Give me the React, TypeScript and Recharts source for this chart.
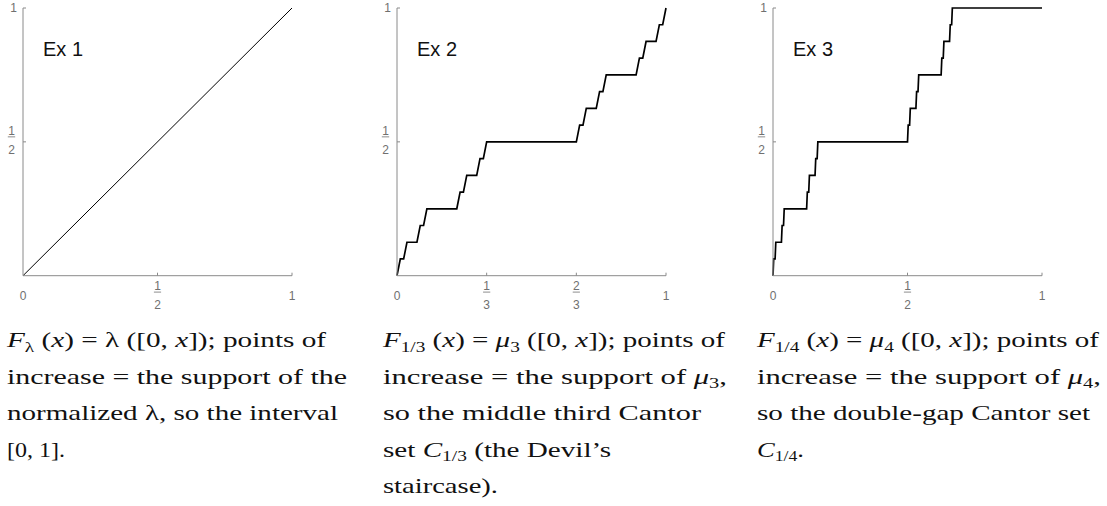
import { LineChart, Line, XAxis, YAxis } from "recharts";

// Ex 1: uniform measure, F(x) = x
const ex1X = [0, 1];
const ex1Y = [0, 1];

// Ex 2: middle third Cantor function
const ex2X = [
  0, 0.0123, 0.0247, 0.037, 0.0741, 0.0864, 0.0988, 0.1111, 0.2222, 0.2346, 0.2469, 0.2593, 0.2963, 0.3086, 0.321, 0.3333,
  0.6667, 0.679, 0.6914, 0.7037, 0.7407, 0.7531, 0.7654, 0.7778, 0.8889, 0.9012, 0.9136, 0.9259, 0.963, 0.9753, 0.9877, 1,
];
const ex2Y = [
  0, 0.0625, 0.0625, 0.125, 0.125, 0.1875, 0.1875, 0.25, 0.25, 0.3125, 0.3125, 0.375, 0.375, 0.4375, 0.4375, 0.5,
  0.5, 0.5625, 0.5625, 0.625, 0.625, 0.6875, 0.6875, 0.75, 0.75, 0.8125, 0.8125, 0.875, 0.875, 0.9375, 0.9375, 1,
];

// Ex 3: double-gap Cantor function
const ex3X = [
  0, 0.0026, 0.0078, 0.0104, 0.0313, 0.0339, 0.0391, 0.0417, 0.125, 0.1276, 0.1328, 0.1354, 0.1563, 0.1589, 0.1641, 0.1667,
  0.5, 0.5026, 0.5078, 0.5104, 0.5313, 0.5339, 0.5391, 0.5417, 0.625, 0.6276, 0.6328, 0.6354, 0.6563, 0.6589, 0.6641, 0.6667, 1,
];
const ex3Y = [
  0, 0.0625, 0.0625, 0.125, 0.125, 0.1875, 0.1875, 0.25, 0.25, 0.3125, 0.3125, 0.375, 0.375, 0.4375, 0.4375, 0.5,
  0.5, 0.5625, 0.5625, 0.625, 0.625, 0.6875, 0.6875, 0.75, 0.75, 0.8125, 0.8125, 0.875, 0.875, 0.9375, 0.9375, 1, 1,
];

const halfTicks = [0, 0.5, 1];
const halfTickLabels = ["0", "1/2", "1"];
const thirdTicks = [0, 1 / 3, 2 / 3, 1];
const thirdTickLabels = ["0", "1/3", "2/3", "1"];
const yTicks = [0.5, 1];
const yTickLabels = ["1/2", "1"];

const AXIS = "#8a8a8a";
const LABEL = "#707070";
const SANS = "'Liberation Sans', Arial, sans-serif";
const SERIF = "'Liberation Serif', 'Times New Roman', serif";

const zip = (xs: number[], ys: number[]) => xs.map((x, i) => ({ x, y: ys[i] }));

function findLabel(ticks: number[], labels: string[], v: number) {
  const i = ticks.findIndex((t) => Math.abs(t - v) < 1e-6);
  return i >= 0 ? labels[i] : "";
}

function makeXTick(ticks: number[], labels: string[]) {
  return (props: any) => {
    const { x, y, payload } = props;
    const parts = findLabel(ticks, labels, payload.value).split("/");
    return (
      <g>
        {payload.value > 0 && <line x1={x} x2={x} y1={y} y2={y - 3} stroke={AXIS} />}
        {parts.length === 2 ? (
          <g fill={LABEL} fontFamily={SANS} fontSize={12} textAnchor="middle">
            <text x={x} y={y + 14.2}>{parts[0]}</text>
            <line x1={x - 3.6} x2={x + 3.6} y1={y + 16.4} y2={y + 16.4} stroke={LABEL} strokeWidth={0.8} />
            <text x={x} y={y + 33}>{parts[1]}</text>
          </g>
        ) : (
          <text x={x} y={y + 24} fill={LABEL} fontFamily={SANS} fontSize={12} textAnchor="middle">
            {parts[0]}
          </text>
        )}
      </g>
    );
  };
}

function YTick(props: any) {
  const { x, y, payload } = props;
  const parts = findLabel(yTicks, yTickLabels, payload.value).split("/");
  return (
    <g>
      <line x1={x} x2={x + 3} y1={y} y2={y} stroke={AXIS} />
      {parts.length === 2 ? (
        <g fill={LABEL} fontFamily={SANS} fontSize={12} textAnchor="middle">
          <text x={x - 11.5} y={y - 7}>{parts[0]}</text>
          <line x1={x - 15.2} x2={x - 7.8} y1={y - 5} y2={y - 5} stroke={LABEL} strokeWidth={0.8} />
          <text x={x - 11.5} y={y + 11.8}>{parts[1]}</text>
        </g>
      ) : (
        <text x={x - 6} y={y + 4.3} fill={LABEL} fontFamily={SANS} fontSize={12} textAnchor="end">
          {parts[0]}
        </text>
      )}
    </g>
  );
}

function Panel({ left, data, ticks, labels, stroke }: any) {
  return (
    <div style={{ position: "absolute", left, top: 0 }}>
      <LineChart width={302} height={330} data={data} margin={{ top: 8, right: 10, bottom: 0, left: 0 }}>
        <XAxis
          dataKey="x"
          type="number"
          domain={[0, 1]}
          ticks={ticks}
          interval={0}
          height={54.3}
          tickSize={0}
          tickMargin={0}
          tickLine={false}
          axisLine={{ stroke: AXIS }}
          tick={makeXTick(ticks, labels)}
        />
        <YAxis
          type="number"
          domain={[0, 1]}
          ticks={yTicks}
          interval={0}
          width={23}
          tickSize={0}
          tickMargin={0}
          tickLine={false}
          axisLine={{ stroke: AXIS }}
          tick={YTick}
        />
        <Line
          dataKey="y"
          type="linear"
          stroke="#000"
          strokeWidth={stroke}
          dot={false}
          activeDot={false}
          isAnimationActive={false}
        />
      </LineChart>
    </div>
  );
}

type Seg = [string, string?];

const captions: { x: number; lines: { len: number; segs: Seg[] }[] }[] = [
  {
    x: 7,
    lines: [
      { len: 319, segs: [["F", "i"], ["λ", "s"], [" ("], ["x", "i"], [") = λ ([0, "], ["x", "i"], ["]); points of"]] },
      { len: 340, segs: [["increase = the support of the"]] },
      { len: 331, segs: [["normalized λ, so the interval"]] },
      { len: 58, segs: [["[0, 1]."]] },
    ],
  },
  {
    x: 383,
    lines: [
      { len: 342, segs: [["F", "i"], ["1/3", "s"], [" ("], ["x", "i"], [") = "], ["μ", "i"], ["3", "s"], [" ([0, "], ["x", "i"], ["]); points of"]] },
      { len: 344, segs: [["increase = the support of "], ["μ", "i"], ["3", "s"], [","]] },
      { len: 318, segs: [["so the middle third Cantor"]] },
      { len: 228, segs: [["set "], ["C", "i"], ["1/3", "s"], [" (the Devil’s"]] },
      { len: 115, segs: [["staircase)."]] },
    ],
  },
  {
    x: 757,
    lines: [
      { len: 342, segs: [["F", "i"], ["1/4", "s"], [" ("], ["x", "i"], [") = "], ["μ", "i"], ["4", "s"], [" ([0, "], ["x", "i"], ["]); points of"]] },
      { len: 344, segs: [["increase = the support of "], ["μ", "i"], ["4", "s"], [","]] },
      { len: 333, segs: [["so the double-gap Cantor set"]] },
      { len: 47, segs: [["C", "i"], ["1/4", "s"], ["."]] },
    ],
  },
];

const baselines = [347, 383.6, 420.2, 456.8, 493.4];

function CaptionLine({ x, y, len, segs }: { x: number; y: number; len: number; segs: Seg[] }) {
  let shift = 0;
  return (
    <text x={x} y={y} textLength={len} lengthAdjust="spacingAndGlyphs" fontFamily={SERIF} fontSize={21} fill="#111" style={{ whiteSpace: "pre" }}>
      {segs.map(([t, s], k) => {
        const sub = !!s && s.includes("s");
        const dy = (sub ? 4.5 : 0) - shift;
        shift = sub ? 4.5 : 0;
        return (
          <tspan key={k} dy={dy} fontStyle={s && s.includes("i") ? "italic" : undefined} fontSize={sub ? 14 : undefined}>
            {t}
          </tspan>
        );
      })}
    </text>
  );
}

export default function App() {
  return (
    <div style={{ position: "absolute", left: 0, top: 0, width: 1107, height: 506, background: "#fff" }}>
      <Panel left={0} data={zip(ex1X, ex1Y)} ticks={halfTicks} labels={halfTickLabels} stroke={1} />
      <Panel left={374} data={zip(ex2X, ex2Y)} ticks={thirdTicks} labels={thirdTickLabels} stroke={1.7} />
      <Panel left={750} data={zip(ex3X, ex3Y)} ticks={halfTicks} labels={halfTickLabels} stroke={1.7} />
      <svg width={1107} height={506} style={{ position: "absolute", left: 0, top: 0, pointerEvents: "none" }}>
        {["Ex 1", "Ex 2", "Ex 3"].map((t, i) => (
          <text key={t} x={[43, 417, 793][i]} y={56} fontFamily={SANS} fontSize={20} fill="#111">
            {t}
          </text>
        ))}
        {captions.map((c, ci) =>
          c.lines.map((l, li) => <CaptionLine key={`${ci}-${li}`} x={c.x} y={baselines[li]} len={l.len} segs={l.segs} />)
        )}
      </svg>
    </div>
  );
}
